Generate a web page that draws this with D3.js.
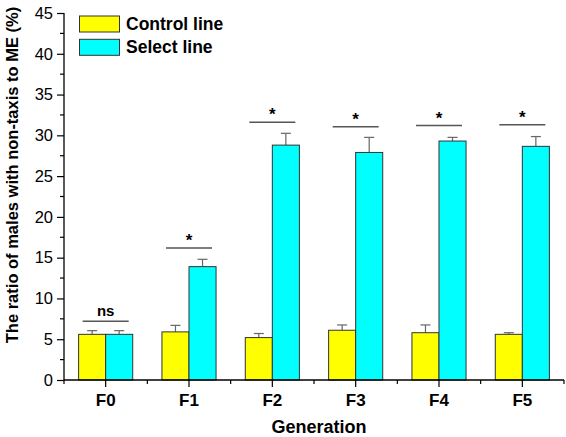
<!DOCTYPE html>
<html><head><meta charset="utf-8">
<script src="https://cdn.jsdelivr.net/npm/d3@7"></script>
<style>body{margin:0;background:#fff}svg{display:block}text{font-family:"Liberation Sans",Arial,sans-serif}</style>
</head><body><div id="c"></div>
<script>
const generations = ["F0","F1","F2","F3","F4","F5"];
const seriesNames = ["Control line","Select line"];
const controlValues = [5.6, 5.9, 5.2, 6.1, 5.8, 5.6];
const controlErrors = [0.45, 0.8, 0.5, 0.65, 0.95, 0.2];
const selectValues = [5.6, 13.9, 28.8, 27.9, 29.3, 28.65];
const selectErrors = [0.45, 0.9, 1.45, 1.85, 0.45, 1.2];
const sigLabels = ["ns","*","*","*","*","*"];
const sigLevels = [7.2, 16.2, 31.6, 31.05, 31.2, 31.3];
const yTicks = [0,5,10,15,20,25,30,35,40,45];
const colors = ["#ffff00","#00ffff"];

const W=566,H=437, L=64, R=564, T=13, B=380;
const svg=d3.select("#c").append("svg").attr("width",W).attr("height",H);
const x=d3.scaleBand().domain(generations).range([L,R]).paddingInner(0).paddingOuter(0);
const xs=d3.scaleBand().domain(seriesNames).range([0,x.bandwidth()]).paddingInner(0).paddingOuter(0.54);
const y=d3.scaleLinear().domain([0,45]).range([B,T]);

const data=generations.map((g,i)=>({g,vals:[
 {s:seriesNames[0],v:controlValues[i],e:controlErrors[i],c:colors[0]},
 {s:seriesNames[1],v:selectValues[i],e:selectErrors[i],c:colors[1]}]}));

// error bars
const eg=svg.append("g").attr("stroke","#666").attr("stroke-width",1.2);
data.forEach(d=>d.vals.forEach(b=>{
  const cx=x(d.g)+xs(b.s)+xs.bandwidth()/2;
  eg.append("line").attr("x1",cx).attr("x2",cx).attr("y1",y(b.v)).attr("y2",y(b.v+b.e));
  eg.append("line").attr("x1",cx-5).attr("x2",cx+5).attr("y1",y(b.v+b.e)).attr("y2",y(b.v+b.e));
}));
// bars
data.forEach(d=>d.vals.forEach(b=>{
  svg.append("rect").attr("x",x(d.g)+xs(b.s)).attr("y",y(b.v))
   .attr("width",xs.bandwidth()).attr("height",B-y(b.v))
   .attr("fill",b.c).attr("stroke","#333").attr("stroke-width",1);
}));
// significance
generations.forEach((g,i)=>{
  const cx=x(g)+x.bandwidth()/2, yy=y(sigLevels[i]);
  svg.append("line").attr("x1",cx-23).attr("x2",cx+23).attr("y1",yy).attr("y2",yy)
    .attr("stroke","#555").attr("stroke-width",1.5);
  svg.append("text").attr("x",cx).attr("y",sigLabels[i]==="*"?yy-2:yy-5).attr("text-anchor","middle")
    .attr("font-size",sigLabels[i]==="*"?17:15).attr("font-weight","bold").text(sigLabels[i]);
});

// y axis
const yAxis=d3.axisLeft(y).tickValues(yTicks).tickSize(7).tickPadding(4).tickFormat(d3.format("d"));
const gy=svg.append("g").attr("transform",`translate(${L},0)`).call(yAxis);
gy.select(".domain").attr("stroke","#000").attr("stroke-width",1.3).attr("d",`M0,${B}V${T}`);
gy.selectAll(".tick line").attr("stroke","#000").attr("stroke-width",1.2);
gy.selectAll(".tick text").attr("font-size",16.5).attr("fill","#000").attr("font-family","Liberation Sans, Arial");
const minorY=d3.range(2.5,45,5);
svg.append("g").selectAll("line").data(minorY).join("line")
  .attr("x1",L-4).attr("x2",L).attr("y1",d=>y(d)).attr("y2",d=>y(d)).attr("stroke","#000").attr("stroke-width",1.2);

// x axis
const xAxis=d3.axisBottom(x).tickSize(7).tickPadding(7);
const gx=svg.append("g").attr("transform",`translate(0,${B})`).call(xAxis);
gx.select(".domain").attr("stroke","#000").attr("stroke-width",1.3).attr("d",`M${L},0H${R}`);
gx.selectAll(".tick line").attr("stroke","#000").attr("stroke-width",1.2);
gx.selectAll(".tick text").attr("font-size",17).attr("font-weight","bold").attr("fill","#000").attr("font-family","Liberation Sans, Arial");
const bounds=generations.map(g=>x(g)).concat([R]);
svg.append("g").selectAll("line").data(bounds).join("line")
  .attr("x1",d=>d).attr("x2",d=>d).attr("y1",B).attr("y2",B+4).attr("stroke","#000").attr("stroke-width",1.2);

// axis titles
svg.append("text").attr("x",319).attr("y",433).attr("text-anchor","middle")
  .attr("font-size",18).attr("font-weight","bold").text("Generation");
svg.append("text").attr("transform","translate(18,175) rotate(-90)").attr("text-anchor","middle")
  .attr("font-size",16.5).attr("font-weight","bold").text("The ratio of males with non-taxis to ME (%)");

// legend
seriesNames.forEach((s,i)=>{
  const ly=16+i*23.3;
  svg.append("rect").attr("x",79.5).attr("y",ly).attr("width",40).attr("height",16)
    .attr("fill",colors[i]).attr("stroke","#333").attr("stroke-width",1);
  svg.append("text").attr("x",126).attr("y",ly+14).attr("font-size",17.5).attr("font-weight","bold").text(s);
});
</script></body></html>
